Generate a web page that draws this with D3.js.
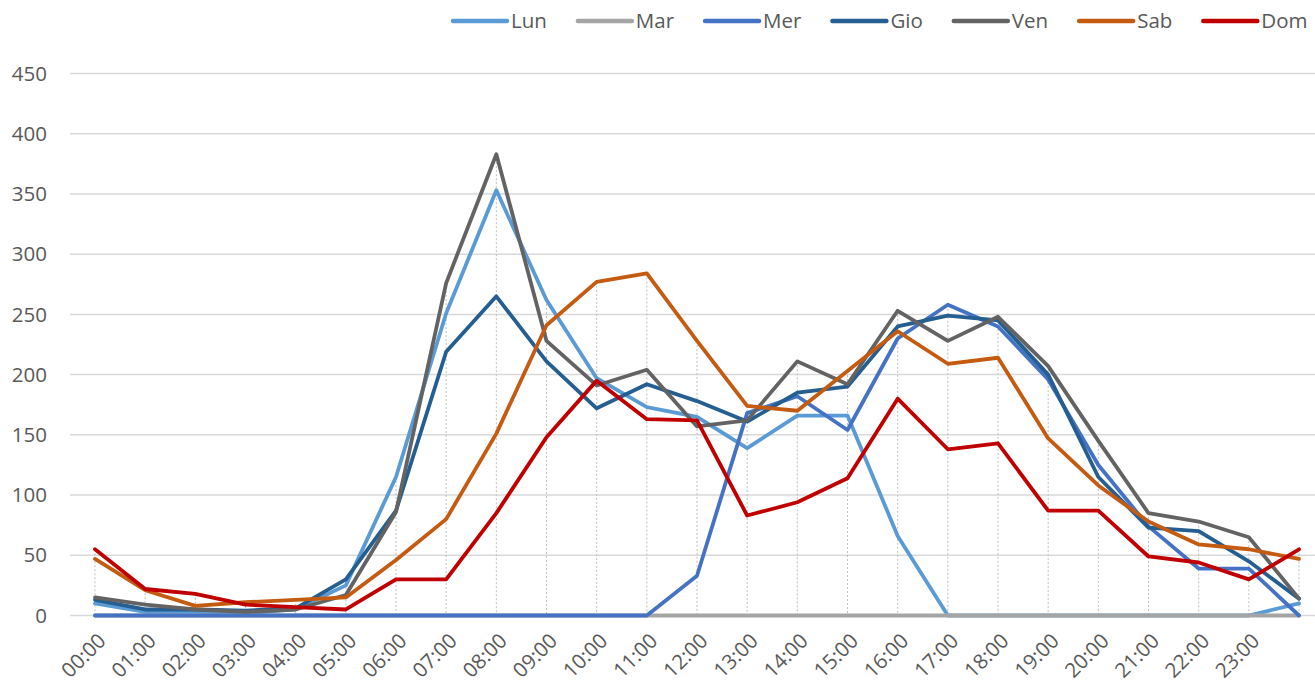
<!DOCTYPE html>
<html lang="it">
  <head>
    <meta charset="utf-8" />
    <script src="https://d3js.org/d3.v7.min.js"></script>
    <style>
      body { margin: 0; background: #fff; }
      text { font-family: "Open Sans", "Noto Sans", sans-serif; fill: #595959; }
    </style>
  </head>
  <body>
    <div id="chart"></div>
    <script>
      // ---- data ----
      var hours = ["00:00","01:00","02:00","03:00","04:00","05:00","06:00","07:00","08:00","09:00","10:00","11:00",
                   "12:00","13:00","14:00","15:00","16:00","17:00","18:00","19:00","20:00","21:00","22:00","23:00"];
      var yTicks = [0, 50, 100, 150, 200, 250, 300, 350, 400, 450];
      var dayNames = ["Lun", "Mar", "Mer", "Gio", "Ven", "Sab", "Dom"];
      var dayColors = ["#5B9BD5", "#A5A5A5", "#4472C4", "#255E91", "#636363", "#C55A11", "#C00000"];

      // 25 points each (last one has no hour label)
      var lun = [10, 3, 3, 2, 5, 25, 115, 251, 353, 262, 197, 173, 165, 139, 166, 166, 66, 0, 0, 0, 0, 0, 0, 0, 10];
      var mar = [0, 0, 0, 0, 0, 0, 0, 0, 0, 0, 0, 0, 0, 0, 0, 0, 0, 0, 0, 0, 0, 0, 0, 0, 0];
      var mer = [0, 0, 0, 0, 0, 0, 0, 0, 0, 0, 0, 0, 33, 168, 182, 154, 230, 258, 240, 196, 125, 74, 39, 39, 0];
      var gio = [13, 5, 5, 4, 6, 30, 87, 219, 265, 211, 172, 192, 178, 161, 185, 190, 240, 249, 245, 200, 115, 73, 70, 45, 14];
      var ven = [15, 9, 5, 3, 5, 17, 86, 276, 383, 228, 191, 204, 157, 162, 211, 192, 253, 228, 248, 207, 145, 85, 78, 65, 14];
      var sab = [47, 21, 8, 11, 13, 15, 46, 80, 151, 241, 277, 284, 228, 174, 170, 203, 236, 209, 214, 147, 108, 78, 59, 55, 47];
      var dom = [55, 22, 18, 9, 7, 5, 30, 30, 85, 148, 195, 163, 162, 83, 94, 114, 180, 138, 143, 87, 87, 49, 44, 30, 55];

      var series = [lun, mar, mer, gio, ven, sab, dom];

      var W = 1315, H = 689;
      var svg = d3.select("#chart").append("svg").attr("width", W).attr("height", H);

      var idx = d3.range(lun.length);
      var x = d3.scalePoint().domain(idx).range([95, 1299]);
      var y = d3.scaleLinear().domain([0, 450]).range([615.5, 73.5]);

      // horizontal gridlines
      svg.append("g")
        .selectAll("line")
        .data(yTicks)
        .join("line")
        .attr("x1", 70)
        .attr("x2", W)
        .attr("y1", function (d) { return y(d); })
        .attr("y2", function (d) { return y(d); })
        .attr("stroke", "#D9D9D9")
        .attr("stroke-width", 1.5);

      // y labels
      svg.append("g")
        .selectAll("text")
        .data(yTicks)
        .join("text")
        .attr("x", 47)
        .attr("y", function (d) { return y(d); })
        .attr("dy", "0.35em")
        .attr("text-anchor", "end")
        .style("font-size", "20.5px")
        .text(function (d) { return d; });

      // drop lines (max of all series down to axis)
      svg.append("g")
        .selectAll("line")
        .data(idx)
        .join("line")
        .attr("x1", function (i) { return x(i); })
        .attr("x2", function (i) { return x(i); })
        .attr("y1", function (i) { return y(d3.max(series, function (s) { return s[i]; })); })
        .attr("y2", y(0))
        .attr("stroke", "#BFBFBF")
        .attr("stroke-width", 1)
        .attr("stroke-dasharray", "2,2");

      // x labels
      svg.append("g")
        .selectAll("text")
        .data(hours)
        .join("text")
        .attr("text-anchor", "end")
        .attr("transform", function (d, i) { return "translate(" + (x(i) + 7) + ",637) rotate(-45)"; })
        .attr("dy", "0.35em")
        .style("font-size", "20.5px")
        .text(function (d) { return d; });

      // lines
      var line = d3.line()
        .x(function (d, i) { return x(i); })
        .y(function (d) { return y(d); });

      svg.append("g")
        .selectAll("path")
        .data(series)
        .join("path")
        .attr("d", line)
        .attr("fill", "none")
        .attr("stroke", function (d, i) { return dayColors[i]; })
        .attr("stroke-width", 3.8)
        .attr("stroke-linejoin", "round")
        .attr("stroke-linecap", "round");

      // legend
      var legend = svg.append("g");
      var lx = 453;
      dayNames.forEach(function (name, i) {
        legend.append("line")
          .attr("x1", lx).attr("x2", lx + 54)
          .attr("y1", 21).attr("y2", 21)
          .attr("stroke", dayColors[i])
          .attr("stroke-width", 4.5)
          .attr("stroke-linecap", "round");
        var t = legend.append("text")
          .attr("x", lx + 58)
          .attr("y", 21)
          .attr("dy", "0.35em")
          .style("font-size", "20.5px")
          .text(name);
        lx += 58 + t.node().getComputedTextLength() + 31;
      });
    </script>
  </body>
</html>
